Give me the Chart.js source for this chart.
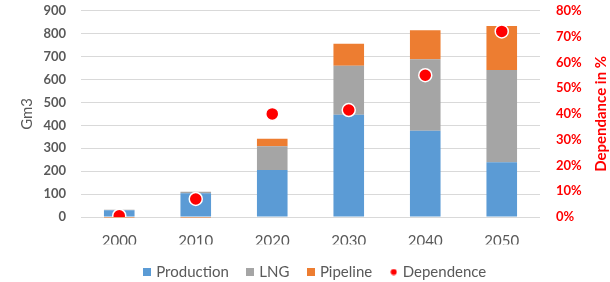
<!DOCTYPE html>
<html><head><meta charset="utf-8">
<script src="https://cdn.jsdelivr.net/npm/chart.js@4/dist/chart.umd.min.js"></script>
<style>html,body{margin:0;padding:0;background:#fff;overflow:hidden}</style>
</head><body>
<canvas id="c" width="610" height="282" style="width:610px;height:282px;display:block"></canvas>
<script>
const years = ['2000', '2010', '2020', '2030', '2040', '2050'];
const production = [30, 104, 205, 446, 376, 239];
const lng = [2, 6, 104, 214, 313, 403];
const pipeline = [-4, -4, 32, 96, 126, 192];
const dependence = [0.5, 7, 40, 41.5, 55, 72];
const leftTickLabels = ['0', '100', '200', '300', '400', '500', '600', '700', '800', '900'];
const rightTickLabels = ['0%', '10%', '20%', '30%', '40%', '50%', '60%', '70%', '80%'];

const FONT = 'Lato';
const GREY = '#595959';
const RED = '#FF0000';
const COLORS = ['#5B9BD5', '#A5A5A5', '#ED7D31', RED];

function squareIcon(color) {
  const c = document.createElement('canvas'); c.width = 8; c.height = 8;
  const x = c.getContext('2d'); x.fillStyle = color; x.fillRect(0, 0, 8, 8); return c;
}
function dotIcon(color) {
  const c = document.createElement('canvas'); c.width = 7; c.height = 7;
  const x = c.getContext('2d'); x.fillStyle = color; x.beginPath(); x.arc(3.5, 3.5, 3, 0, Math.PI * 2); x.fill(); return c;
}
const icons = [squareIcon(COLORS[0]), squareIcon(COLORS[1]), squareIcon(COLORS[2]), dotIcon(COLORS[3])];

const rightTitle = {
  id: 'rightTitle',
  afterDraw(chart) {
    const ctx = chart.ctx, a = chart.chartArea, s = chart.scales.y1;
    ctx.save();
    ctx.translate(s.right - 9, (a.top + a.bottom) / 2);
    ctx.rotate(-Math.PI / 2);
    ctx.font = 'bold 15px ' + FONT;
    ctx.fillStyle = RED;
    ctx.textAlign = 'center';
    ctx.textBaseline = 'middle';
    ctx.fillText('Dependance in %', 0, 0);
    ctx.restore();
  }
};

new Chart(document.getElementById('c'), {
  type: 'bar',
  data: {
    labels: years,
    datasets: [
      { label: 'Production', data: production, backgroundColor: COLORS[0], stack: 's', order: 1, yAxisID: 'y' },
      { label: 'LNG', data: lng, backgroundColor: COLORS[1], stack: 's', order: 1, yAxisID: 'y' },
      { label: 'Pipeline', data: pipeline, backgroundColor: COLORS[2], stack: 's', order: 1, yAxisID: 'y',
        clip: { left: 0, top: 0, right: 0, bottom: 2 } },
      { type: 'line', label: 'Dependence', data: dependence, yAxisID: 'y1', showLine: false, order: 0,
        pointRadius: 6.5, pointHoverRadius: 6.5, pointBackgroundColor: RED, pointBorderColor: '#FFFFFF',
        pointBorderWidth: 1.5, backgroundColor: RED, borderColor: RED }
    ]
  },
  options: {
    responsive: false,
    animation: false,
    devicePixelRatio: 1,
    layout: { padding: { left: 22, right: 0, top: 0, bottom: -7.5 } },
    datasets: { bar: { barPercentage: 0.4, categoryPercentage: 1 } },
    plugins: {
      tooltip: { enabled: false },
      legend: {
        position: 'bottom',
        labels: {
          usePointStyle: true,
          pointStyleWidth: 3,
          padding: 20,
          color: GREY,
          font: { family: FONT, size: 15 },
          sort: (a, b) => a.datasetIndex - b.datasetIndex,
          generateLabels(chart) {
            const items = Chart.defaults.plugins.legend.labels.generateLabels(chart);
            items.forEach(it => { it.pointStyle = icons[it.datasetIndex]; });
            return items;
          }
        }
      }
    },
    scales: {
      x: {
        stacked: true,
        grid: { display: false, drawTicks: false },
        border: { display: false },
        ticks: { color: GREY, font: { family: FONT, size: 15 }, padding: 15 },
        afterFit(s) { s.height = 27.5; }
      },
      y: {
        stacked: true,
        position: 'left',
        min: 0, max: 900,
        ticks: { stepSize: 100, color: GREY, font: { family: FONT, size: 13, weight: 'bold' }, padding: 3,
          callback: (v, i) => leftTickLabels[i] },
        grid: { color: '#D9D9D9', lineWidth: 1, drawTicks: true, tickLength: 12, tickColor: 'rgba(0,0,0,0)' },
        border: { display: false },
        title: { display: true, text: 'Gm3', color: GREY, font: { family: FONT, size: 15 }, padding: { top: -4, bottom: 0 } },
        afterFit(s) { s.width = 59; }
      },
      y1: {
        position: 'right',
        min: 0, max: 80,
        ticks: { stepSize: 10, color: RED, font: { family: FONT, size: 13, weight: 'bold' }, padding: 3,
          callback: (v, i) => rightTickLabels[i] },
        grid: { display: false, drawTicks: true, tickLength: 13 },
        border: { display: false },
        afterFit(s) { s.width = 70; }
      }
    }
  },
  plugins: [rightTitle]
});
</script>
</body></html>
